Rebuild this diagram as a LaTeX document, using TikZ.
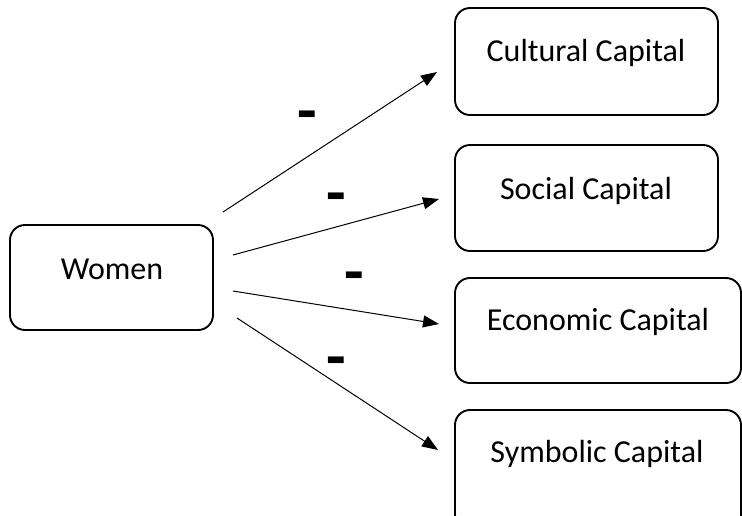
\documentclass[tikz,border=0pt]{standalone}
\usepackage{fontspec}
\setmainfont{Carlito}
\usetikzlibrary{arrows.meta}
\begin{document}
\begin{tikzpicture}[x=1pt,y=-1pt,
  capbox/.style={draw=black,line width=1.9pt,rounded corners=15pt,inner sep=0pt},
  lbl/.style={font=\fontsize{32}{32}\selectfont,inner sep=0pt},
  sign/.style={font=\fontsize{64}{64}\selectfont\bfseries,inner sep=0pt},
  link/.style={line width=1pt,-{Triangle[length=16pt,width=12pt]}}]
\useasboundingbox (0,0) rectangle (742,515);
\clip (0,0) rectangle (742,515);
% boxes
\draw[capbox] (10,225) rectangle (213,330);
\node[lbl] (women) at (112,269) {Women};
\draw[capbox] (455,8) rectangle (718,115);
\node[lbl] (cult) at (586,53) {Cultural Capital};
\draw[capbox] (455,145) rectangle (718,251);
\node[lbl] (soc) at (586,191) {Social Capital};
\draw[capbox] (455,278) rectangle (741,383);
\node[lbl] (eco) at (598,322) {Economic Capital};
\draw[capbox] (455,410) rectangle (741,530);
\node[lbl] (sym) at (597,454) {Symbolic Capital};
% connectors
\coordinate (s1) at (223,212); \coordinate (t1) at (437,72);
\coordinate (s2) at (233,255); \coordinate (t2) at (439,199);
\coordinate (s3) at (233,291); \coordinate (t3) at (439,324);
\coordinate (s4) at (237,318); \coordinate (t4) at (438,450);
\draw[link] (s1) -- (t1);
\draw[link] (s2) -- (t2);
\draw[link] (s3) -- (t3);
\draw[link] (s4) -- (t4);
% signs
\node[sign] (m1) at (307,122) {-};
\node[sign] (m2) at (336,204) {-};
\node[sign] (m3) at (354,283) {-};
\node[sign] (m4) at (336,368) {-};
\end{tikzpicture}
\end{document}
